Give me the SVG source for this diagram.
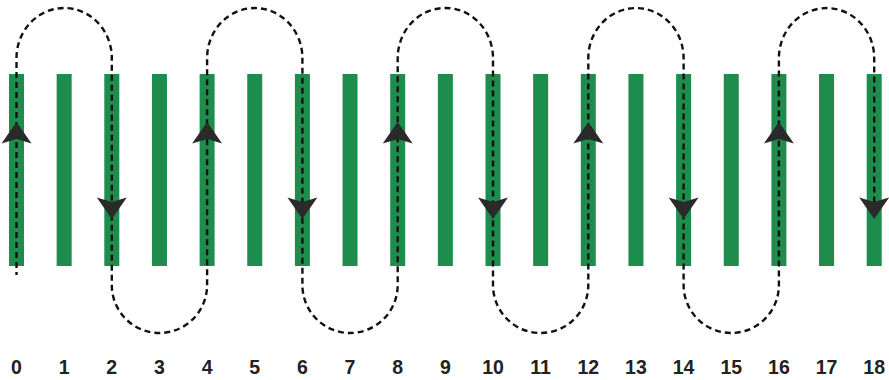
<svg xmlns="http://www.w3.org/2000/svg" xmlns:xlink="http://www.w3.org/1999/xlink" width="889" height="380" viewBox="0 0 889 380">
<style>
.bar{fill:#1d8c4d}
.lbl{font-family:"Liberation Sans",Arial,sans-serif;font-size:19.5px;font-weight:bold;fill:#222;text-anchor:middle}
.route{fill:none;stroke:#111;stroke-width:2.4;stroke-dasharray:6 4;stroke-dashoffset:3}
.arr{fill:#2a2a2a}
</style>
<defs>
<path id="ah" d="M0 -11 L15 10.5 L0 6 L-15 10.5 Z"/>
</defs>
<rect width="889" height="380" fill="#fff"/>
<g id="bar-0"><rect class="bar" x="9" y="74" width="15" height="192"/><text class="lbl" x="16.5" y="374">0</text></g>
<g id="bar-1"><rect class="bar" x="56.65" y="74" width="15" height="192"/><text class="lbl" x="64.15" y="374">1</text></g>
<g id="bar-2"><rect class="bar" x="104.3" y="74" width="15" height="192"/><text class="lbl" x="111.8" y="374">2</text></g>
<g id="bar-3"><rect class="bar" x="151.95" y="74" width="15" height="192"/><text class="lbl" x="159.45" y="374">3</text></g>
<g id="bar-4"><rect class="bar" x="199.6" y="74" width="15" height="192"/><text class="lbl" x="207.1" y="374">4</text></g>
<g id="bar-5"><rect class="bar" x="247.25" y="74" width="15" height="192"/><text class="lbl" x="254.75" y="374">5</text></g>
<g id="bar-6"><rect class="bar" x="294.9" y="74" width="15" height="192"/><text class="lbl" x="302.4" y="374">6</text></g>
<g id="bar-7"><rect class="bar" x="342.55" y="74" width="15" height="192"/><text class="lbl" x="350.05" y="374">7</text></g>
<g id="bar-8"><rect class="bar" x="390.2" y="74" width="15" height="192"/><text class="lbl" x="397.7" y="374">8</text></g>
<g id="bar-9"><rect class="bar" x="437.85" y="74" width="15" height="192"/><text class="lbl" x="445.35" y="374">9</text></g>
<g id="bar-10"><rect class="bar" x="485.5" y="74" width="15" height="192"/><text class="lbl" x="493" y="374">10</text></g>
<g id="bar-11"><rect class="bar" x="533.15" y="74" width="15" height="192"/><text class="lbl" x="540.65" y="374">11</text></g>
<g id="bar-12"><rect class="bar" x="580.8" y="74" width="15" height="192"/><text class="lbl" x="588.3" y="374">12</text></g>
<g id="bar-13"><rect class="bar" x="628.45" y="74" width="15" height="192"/><text class="lbl" x="635.95" y="374">13</text></g>
<g id="bar-14"><rect class="bar" x="676.1" y="74" width="15" height="192"/><text class="lbl" x="683.6" y="374">14</text></g>
<g id="bar-15"><rect class="bar" x="723.75" y="74" width="15" height="192"/><text class="lbl" x="731.25" y="374">15</text></g>
<g id="bar-16"><rect class="bar" x="771.4" y="74" width="15" height="192"/><text class="lbl" x="778.9" y="374">16</text></g>
<g id="bar-17"><rect class="bar" x="819.05" y="74" width="15" height="192"/><text class="lbl" x="826.55" y="374">17</text></g>
<g id="bar-18"><rect class="bar" x="866.7" y="74" width="15" height="192"/><text class="lbl" x="874.2" y="374">18</text></g>
<g id="connectors">
<path class="route" d="M16.5 275 V58 A47.65 50 0 0 1 111.8 58 V285 A47.65 48 0 0 0 207.1 285 V58 A47.65 50 0 0 1 302.4 58 V285 A47.65 48 0 0 0 397.7 285 V58 A47.65 50 0 0 1 493 58 V285 A47.65 48 0 0 0 588.3 285 V58 A47.65 50 0 0 1 683.6 58 V285 A47.65 48 0 0 0 778.9 285 V58 A47.65 50 0 0 1 874.2 58 V212"/>
<use class="arr" xlink:href="#ah" transform="translate(16.5 133)"/>
<use class="arr" xlink:href="#ah" transform="translate(207.1 133)"/>
<use class="arr" xlink:href="#ah" transform="translate(397.7 133)"/>
<use class="arr" xlink:href="#ah" transform="translate(588.3 133)"/>
<use class="arr" xlink:href="#ah" transform="translate(778.9 133)"/>
<use class="arr" xlink:href="#ah" transform="translate(111.8 208) rotate(180)"/>
<use class="arr" xlink:href="#ah" transform="translate(302.4 208) rotate(180)"/>
<use class="arr" xlink:href="#ah" transform="translate(493 208) rotate(180)"/>
<use class="arr" xlink:href="#ah" transform="translate(683.6 208) rotate(180)"/>
<use class="arr" xlink:href="#ah" transform="translate(874.2 208) rotate(180)"/>
</g>
</svg>
